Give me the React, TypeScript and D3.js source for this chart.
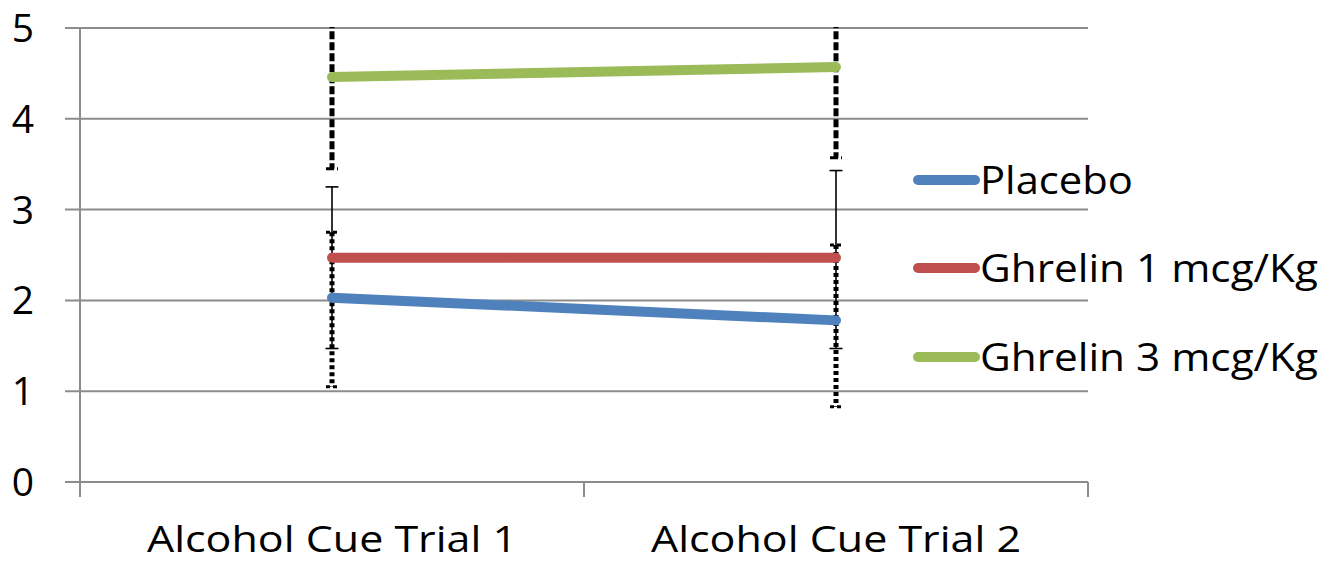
import React from "react";
import * as d3 from "d3";

const categories = ["Alcohol Cue Trial 1", "Alcohol Cue Trial 2"];
const seriesNames = ["Placebo", "Ghrelin 1 mcg/Kg", "Ghrelin 3 mcg/Kg"];
const placebo = [2.03, 1.78];
const ghrelin1 = [2.47, 2.47];
const ghrelin3 = [4.46, 4.57];
const placeboErrLow = [1.47, 1.47];
const placeboErrHigh = [3.25, 3.43];
const ghrelin1ErrLow = [1.05, 0.83];
const ghrelin1ErrHigh = [2.75, 2.61];
const ghrelin3ErrLow = [3.45, 3.57];
const ghrelin3ErrHigh = [5.45, 5.57];
const yTicks = [0, 1, 2, 3, 4, 5];

const colors = ["#4F81BD", "#C0504D", "#9BBB59"];
const FONT = "'Open Sans', sans-serif";

export default function App() {
  const W = 1339, H = 564;
  const left = 80, right = 1088, top = 28, bottom = 482;
  const x = d3.scaleBand().domain(categories).range([left, right]).padding(0);
  const y = d3.scaleLinear().domain([0, 5]).range([bottom, top]);
  const cx = (c: string) => (x(c) as number) + x.bandwidth() / 2;

  const series = [
    { name: seriesNames[0], vals: placebo, lo: placeboErrLow, hi: placeboErrHigh, color: colors[0] },
    { name: seriesNames[1], vals: ghrelin1, lo: ghrelin1ErrLow, hi: ghrelin1ErrHigh, color: colors[1] },
    { name: seriesNames[2], vals: ghrelin3, lo: ghrelin3ErrLow, hi: ghrelin3ErrHigh, color: colors[2] },
  ];
  const errStyles = [
    { w: 1.6, dash: undefined as string | undefined, capW: 13, capSW: 1.6 },
    { w: 5, dash: "4,3", capW: 12, capSW: 3 },
    { w: 5, dash: "8,3", capW: 12, capSW: 3 },
  ];
  const line = d3.line<number>().x((_, i) => cx(categories[i])).y((d) => y(d));
  const legendX1 = 918, legendX2 = 975;
  const legendYs = [180, 268, 357];
  const legendWidths = [153, 338, 338];
  const catBoundaries = [left, ...categories.map((c) => (x(c) as number) + x.bandwidth())];

  return (
    <svg width={W} height={H} style={{ position: "absolute", left: 0, top: 0, background: "#fff" }}>
      <defs>
        <clipPath id="plotclip">
          <rect x={0} y={top - 1} width={W} height={bottom - top + 30} />
        </clipPath>
      </defs>
      {yTicks.map((t) => (
        <line key={t} x1={65} x2={right} y1={y(t)} y2={y(t)} stroke="#8c8c8c" strokeWidth={2} />
      ))}
      <line x1={left} x2={left} y1={top} y2={bottom + 15} stroke="#8c8c8c" strokeWidth={2} />
      {catBoundaries.map((b, i) => (
        <line key={i} x1={b} x2={b} y1={bottom} y2={bottom + 15} stroke="#8c8c8c" strokeWidth={2} />
      ))}
      {yTicks.map((t) => (
        <text key={t} x={34} y={y(t) + 14} textAnchor="end" fontFamily={FONT} fontSize={39} fill="#000">
          {t}
        </text>
      ))}
      {categories.map((c) => (
        <text key={c} x={cx(c)} y={552} textAnchor="middle" fontFamily={FONT} fontSize={37} fill="#000"
          textLength={370} lengthAdjust="spacingAndGlyphs">
          {c}
        </text>
      ))}
      <g clipPath="url(#plotclip)">
        {series.map((s, si) =>
          categories.map((c, ci) => {
            const st = errStyles[si];
            const px = cx(c);
            return (
              <g key={`${si}-${ci}`}>
                <line x1={px} x2={px} y1={y(s.hi[ci])} y2={y(s.lo[ci])} stroke="#000" strokeWidth={st.w} strokeDasharray={st.dash} />
                <line x1={px - st.capW / 2} x2={px + st.capW / 2} y1={y(s.hi[ci])} y2={y(s.hi[ci])} stroke="#000" strokeWidth={st.capSW} strokeDasharray={st.dash} />
                <line x1={px - st.capW / 2} x2={px + st.capW / 2} y1={y(s.lo[ci])} y2={y(s.lo[ci])} stroke="#000" strokeWidth={st.capSW} strokeDasharray={st.dash} />
              </g>
            );
          })
        )}
      </g>
      {series.map((s) => (
        <path key={s.name} d={line(s.vals) as string} fill="none" stroke={s.color} strokeWidth={10} strokeLinecap="round" />
      ))}
      {series.map((s, i) => (
        <g key={s.name}>
          <line x1={legendX1} x2={legendX2} y1={legendYs[i]} y2={legendYs[i]} stroke={s.color} strokeWidth={10} strokeLinecap="round" />
          <text x={980} y={legendYs[i] + 14} fontFamily={FONT} fontSize={38} fill="#000"
            textLength={legendWidths[i]} lengthAdjust="spacingAndGlyphs">
            {s.name}
          </text>
        </g>
      ))}
    </svg>
  );
}
